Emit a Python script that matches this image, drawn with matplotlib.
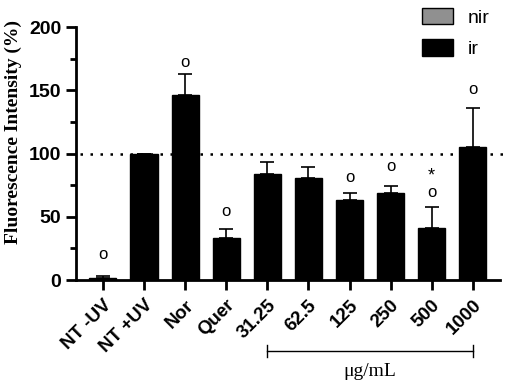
import numpy as np
from matplotlib import pyplot as plt
from matplotlib.patches import Patch
from matplotlib.ticker import MultipleLocator

# data
labels = ['NT -UV', 'NT +UV', 'Nor', 'Quer', '31.25', '62.5', '125', '250', '500', '1000']
values = [2, 100, 146, 33, 84, 81, 63, 69, 41, 105]
errors = [1.5, 0, 17, 7, 9, 8, 6, 5, 17, 31]
# significance marks: (bar index, y, symbol)
marks = [(0, 20, 'o'), (2, 172, 'o'), (3, 54, 'o'), (6, 81, 'o'), (7, 90, 'o'),
         (8, 69, 'o'), (8, 82, '*'), (9, 151, 'o')]

fig = plt.figure(figsize=(5.05, 3.81), dpi=100)
ax = fig.add_axes([0.150, 0.265, 0.840, 0.664])

x = np.arange(len(labels))
ax.bar(x, values, width=0.66, color='black', edgecolor='black', zorder=2)
ax.errorbar(x, values, yerr=[np.zeros(len(errors)), errors], fmt='none',
            ecolor='black', elinewidth=1.2, capsize=5, capthick=1.2, zorder=1)

for i, y, s in marks:
    fs = 13 if s == '*' else 12
    ax.text(i, y, s, ha='center', va='center', fontsize=fs,
            family='Liberation Sans')

ax.axhline(100, xmin=0.01, xmax=1.01, color='black', linestyle=(0, (1, 3)),
           linewidth=1.8, clip_on=False, zorder=0)

ax.set_xlim(-0.66, 9.66)
ax.set_ylim(0, 200)
ax.yaxis.set_major_locator(MultipleLocator(50))
ax.yaxis.set_minor_locator(MultipleLocator(25))
ax.spines['top'].set_visible(False)
ax.spines['right'].set_visible(False)
ax.spines['left'].set_linewidth(2)
ax.spines['bottom'].set_linewidth(2)
ax.tick_params(axis='both', which='major', width=2, length=7)
ax.tick_params(axis='x', pad=5)
ax.tick_params(axis='y', which='minor', width=2, length=4)

ax.set_xticks(x)
ax.set_xticklabels(labels, rotation=45, ha='right', rotation_mode='anchor',
                   fontsize=13.5, fontweight='bold', family='Liberation Sans')
for t in ax.get_yticklabels():
    t.set_fontsize(14)
    t.set_fontweight('bold')
    t.set_family('Liberation Sans')

ax.set_ylabel('Fluorescence Intensity (%)', fontsize=14, fontweight='bold',
              family='Liberation Serif')
ax.yaxis.set_label_coords(-0.126, 0.585)

# concentration bracket
trans = ax.get_xaxis_transform()
ax.plot([4, 9], [-0.28, -0.28], color='black', linewidth=1, transform=trans, clip_on=False)
for xx in (4, 9):
    ax.plot([xx, xx], [-0.255, -0.305], color='black', linewidth=1, transform=trans, clip_on=False)
ax.text(6.5, -0.36, 'μg/mL', ha='center', va='center', fontsize=14,
        family='Liberation Serif', transform=trans)

handles = [Patch(facecolor='#909090', edgecolor='black', linewidth=1, label='nir'),
           Patch(facecolor='black', edgecolor='black', label='ir')]
fig.legend(handles=handles, loc='upper left', bbox_to_anchor=(0.80, 1.025),
           frameon=False, prop={'family': 'Liberation Sans', 'size': 14},
           handlelength=1.6, handleheight=0.9, labelspacing=0.65, handletextpad=0.8)

plt.savefig('out.png', dpi=100)
